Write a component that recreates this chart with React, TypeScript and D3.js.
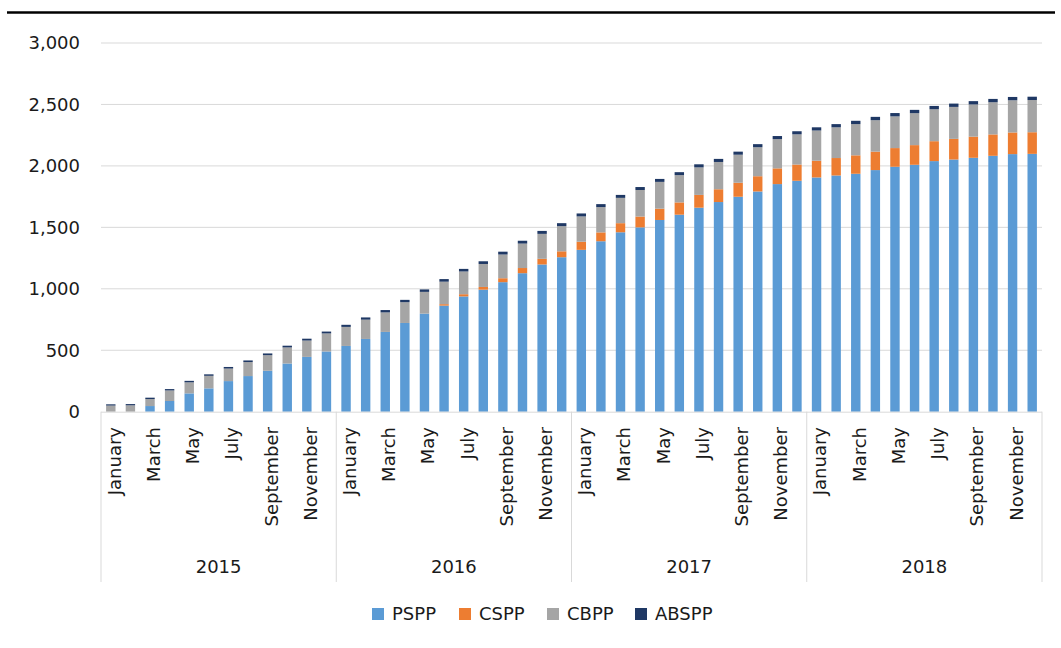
import React from 'react';
import * as d3 from 'd3';

// monthly holdings, EUR bn, Jan 2015 - Dec 2018
const years = ['2015', '2016', '2017', '2018'];
const monthNames = [
  'January', 'February', 'March', 'April', 'May', 'June',
  'July', 'August', 'September', 'October', 'November', 'December',
];

const pspp = [
  0, 0, 46, 87, 149, 190, 249, 290, 333, 392, 446, 490,
  535, 592, 649, 722, 798, 863, 938, 993, 1054, 1127, 1198, 1257,
  1317, 1387, 1460, 1500, 1560, 1603, 1660, 1706, 1749, 1792, 1852, 1879,
  1906, 1922, 1936, 1966, 1993, 2009, 2039, 2052, 2066, 2082, 2096, 2098,
];
const cspp = [
  0, 0, 0, 0, 0, 0, 0, 0, 0, 0, 0, 0,
  0, 0, 0, 0, 0, 12, 18, 22, 32, 42, 46, 48,
  66, 72, 74, 88, 92, 100, 104, 104, 114, 124, 128, 132,
  136, 142, 150, 150, 152, 160, 162, 168, 172, 174, 176, 176,
];
const cbpp = [
  50, 52, 57, 86, 90, 102, 102, 114, 127, 131, 133, 147,
  155, 157, 159, 169, 177, 183, 185, 187, 193, 199, 203, 205,
  206, 206, 206, 216, 218, 222, 224, 222, 228, 236, 238, 246,
  246, 250, 254, 256, 258, 260, 260, 260, 262, 262, 262, 262,
];
const abspp = [
  10, 10, 11, 11, 12, 12, 13, 13, 14, 14, 15, 15,
  17, 18, 19, 19, 20, 21, 21, 22, 23, 23, 24, 24,
  24, 24, 24, 24, 24, 24, 25, 25, 25, 25, 25, 25,
  26, 26, 27, 27, 27, 27, 27, 27, 27, 27, 27, 27,
];

const seriesKeys = ['PSPP', 'CSPP', 'CBPP', 'ABSPP'];
const seriesColors = ['#5B9BD5', '#ED7D31', '#A5A5A5', '#1F3864'];
const yTicks = [0, 500, 1000, 1500, 2000, 2500, 3000];

const W = 1061;
const H = 648;
const left = 101;
const right = 1042;
const y0 = 411.7;
const yTop = 43;
const font = '"DejaVu Sans", sans-serif';
const textColor = '#1a1a1a';
const gridColor = '#D9D9D9';
const legendX = [372, 459, 547, 635];

const App: React.FC = () => {
  const cats = years.flatMap(yr => monthNames.map(m => `${yr}-${m}`));
  const rows = cats.map((c, i) => ({
    cat: c,
    PSPP: pspp[i],
    CSPP: cspp[i],
    CBPP: cbpp[i],
    ABSPP: abspp[i],
  }));

  const x = d3.scaleBand<string>()
    .domain(cats)
    .range([left, right])
    .paddingInner(0.52)
    .paddingOuter(0.26);

  const y = d3.scaleLinear().domain([0, 3000]).range([y0, yTop]);

  const stacked = d3.stack<any>().keys(seriesKeys)(rows);
  const fmt = d3.format(',');

  const yearX = d3.scaleBand<string>().domain(years).range([left, right]);

  return (
    <svg width={W} height={H} style={{ position: 'absolute', left: 0, top: 0 }}>
      <rect width={W} height={H} fill="#fff" />
      <line x1={7} x2={1055} y1={12.5} y2={12.5} stroke="#000" strokeWidth={2.5} />

      {yTicks.map(t => (
        <g key={t}>
          {t > 0 && (
            <line x1={left} x2={right} y1={y(t)} y2={y(t)} stroke={gridColor} strokeWidth={1} />
          )}
          <text x={80} y={y(t)} dy="0.36em" textAnchor="end" fontFamily={font}
            fontSize={18} fill={textColor}>{fmt(t)}</text>
        </g>
      ))}

      {stacked.map((s, si) => (
        <g key={s.key} fill={seriesColors[si]}>
          {s.map((d, i) => (
            <rect key={i} x={x(cats[i])} width={x.bandwidth()}
              y={y(d[1])} height={Math.max(0, y(d[0]) - y(d[1]))} />
          ))}
        </g>
      ))}

      <line x1={left} x2={right} y1={y0 + 0.5} y2={y0 + 0.5} stroke={gridColor} strokeWidth={1} />
      {years.map(yr => (
        <line key={yr} x1={yearX(yr)} x2={yearX(yr)} y1={y0} y2={582}
          stroke={gridColor} strokeWidth={1} />
      ))}
      <line x1={right} x2={right} y1={y0} y2={582} stroke={gridColor} strokeWidth={1} />

      {cats.map((c, i) => (i % 2 === 0 ? (
        <text key={c} transform={`translate(${x(c)! + x.bandwidth() / 2},427) rotate(-90)`}
          dy="0.55em" textAnchor="end" fontFamily={font} fontSize={18} fill={textColor}>
          {monthNames[i % 12]}
        </text>
      ) : null))}

      {years.map(yr => (
        <text key={yr} x={yearX(yr)! + yearX.bandwidth() / 2} y={573} textAnchor="middle"
          fontFamily={font} fontSize={18} fill={textColor}>{yr}</text>
      ))}

      {seriesKeys.map((k, i) => (
        <g key={k} transform={`translate(${legendX[i]},0)`}>
          <rect x={0} y={608} width={12} height={12} fill={seriesColors[i]} />
          <text x={20} y={620} fontFamily={font} fontSize={18} fill={textColor}>{k}</text>
        </g>
      ))}
    </svg>
  );
};

export default App;
